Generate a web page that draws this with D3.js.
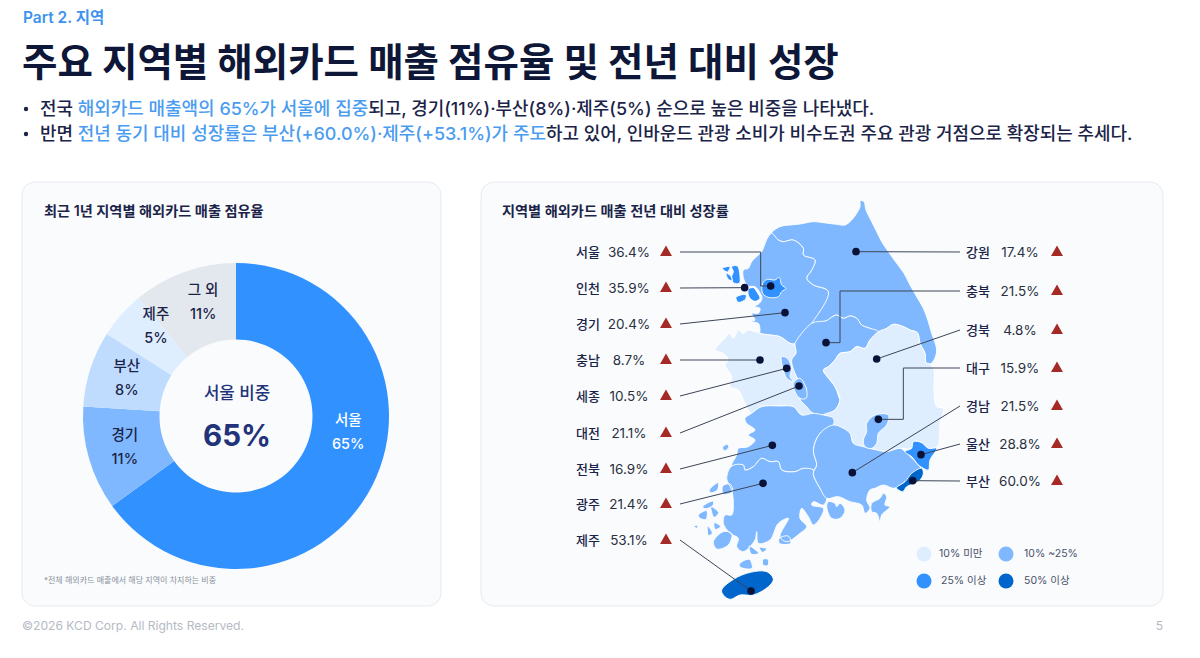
<!DOCTYPE html>
<html lang="ko">
<head>
<meta charset="UTF-8">
<title>주요 지역별 해외카드 매출 점유율 및 전년 대비 성장</title>
<script src="https://d3js.org/d3.v7.min.js"></script>
<style>
  html, body { margin: 0; padding: 0; background: #fff; }
  svg { display: block; }
  text { font-family: Inter, "Noto Sans CJK KR", sans-serif; }
</style>
</head>
<body>
<div id="chart"></div>
<script>
// donut data
const shareNames = ["서울", "경기", "부산", "제주", "그 외"];
const shareValues = [65, 11, 8, 5, 11];
const shareColors = ["#3191ff", "#7fb8ff", "#bfdcff", "#dfeeff", "#e3e8ee"];

// growth by region, same order as the label rows
const leftNames = ["서울", "인천", "경기", "충남", "세종", "대전", "전북", "광주", "제주"];
const leftGrowth = [36.4, 35.9, 20.4, 8.7, 10.5, 21.1, 16.9, 21.4, 53.1];
const rightNames = ["강원", "충북", "경북", "대구", "경남", "울산", "부산"];
const rightGrowth = [17.4, 21.5, 4.8, 15.9, 21.5, 28.8, 60.0];

const legendLabels = ["10% 미만", "10% ~25%", "25% 이상", "50% 이상"];
const growthBreaks = [10, 25, 50];
const growthColors = ["#dfeeff", "#7fb8ff", "#3191ff", "#0066cc"];

// map outlines, traced by hand on a 840 x 1260 grid
const outlines = {
  "강원": [[[275,130],[300,110],[330,105],[360,102],[400,95],[430,98],[470,103],[495,105],[515,90],[530,70],[540,50],[541,32],[552,35],[558,60],[575,95],[590,125],[605,155],[625,185],[650,220],[672,250],[690,285],[710,320],[730,355],[745,395],[755,430],[770,480],[762,510],[750,522],[738,518],[735,490],[720,460],[712,428],[690,420],[670,410],[640,403],[620,415],[595,425],[570,415],[545,405],[530,385],[510,378],[490,385],[470,375],[450,385],[440,392],[395,400],[445,305],[400,285],[380,265],[395,240],[405,210],[370,195],[370,175],[340,150],[310,155],[295,150]]],
  "경기": [[[275,130],[295,150],[310,155],[340,150],[370,175],[370,195],[405,210],[395,240],[380,265],[400,285],[445,305],[395,400],[345,460],[330,460],[300,440],[270,435],[240,430],[240,420],[235,400],[210,395],[225,390],[215,370],[235,370],[240,355],[225,350],[238,340],[246,325],[238,305],[225,290],[205,288],[192,270],[190,240],[205,235],[215,215],[235,195],[245,185],[262,145]]],
  "충남": [[[240,430],[270,435],[300,440],[330,460],[345,465],[348,490],[335,510],[350,560],[380,600],[380,630],[360,625],[380,650],[400,670],[365,675],[340,650],[300,648],[245,650],[215,670],[190,630],[175,600],[150,590],[155,560],[135,525],[145,510],[130,490],[105,480],[115,465],[130,450],[150,430],[160,445],[175,420],[190,430],[205,420],[225,425]]],
  "충북": [[[395,400],[440,392],[450,385],[470,375],[490,385],[510,378],[530,385],[545,405],[570,415],[595,425],[570,450],[555,475],[530,470],[510,485],[480,490],[465,510],[445,530],[430,540],[450,570],[465,590],[478,625],[480,630],[465,660],[430,675],[400,670],[380,650],[360,625],[380,600],[350,560],[335,510],[348,490],[345,465],[345,460]]],
  "경북": [[[595,425],[620,415],[640,403],[670,410],[690,420],[712,428],[720,460],[735,490],[738,518],[750,522],[762,540],[762,600],[770,650],[790,655],[780,700],[772,770],[745,775],[725,758],[700,755],[695,775],[660,775],[620,785],[590,780],[550,770],[520,760],[510,730],[490,715],[460,705],[460,685],[430,675],[465,660],[480,630],[465,590],[450,570],[430,540],[445,530],[465,510],[480,490],[510,485],[530,470],[555,475],[570,450]]],
  "전북": [[[215,670],[245,650],[300,648],[340,650],[365,675],[400,670],[430,675],[460,685],[460,705],[420,730],[400,780],[410,825],[400,840],[370,835],[345,845],[305,840],[295,815],[270,815],[245,805],[220,830],[195,840],[190,825],[155,828],[170,795],[175,775],[205,770],[225,750],[205,735],[225,720],[200,700],[195,685]],
    [[128,772],[142,763],[146,773],[133,782]]],
  "광주": [[[155,828],[190,825],[195,840],[220,830],[245,805],[270,815],[295,815],[305,840],[345,845],[370,835],[400,840],[400,855],[420,895],[440,925],[430,945],[400,935],[395,945],[430,955],[420,985],[400,1005],[385,980],[365,955],[360,985],[380,1010],[360,1030],[320,1055],[300,1040],[325,985],[295,1000],[270,1050],[235,1060],[230,1025],[225,1050],[190,1085],[170,1070],[175,1045],[150,1030],[130,1000],[135,975],[155,975],[160,940],[155,900],[140,865]],
    [[100,1055],[130,1025],[155,1030],[145,1065],[110,1077]],[[88,900],[115,878],[112,900],[92,908]],[[128,888],[150,882],[158,905],[130,912]],
    [[68,950],[100,933],[98,947],[75,956]],[[55,975],[80,962],[78,988],[60,985]],[[93,950],[116,968],[102,982]],[[83,1008],[97,1030],[85,1036]],[[103,998],[122,1010],[105,1018]],[[42,1008],[54,1006],[50,1015]],
    [[178,1122],[208,1108],[216,1135],[182,1132]],[[249,1108],[264,1108],[264,1126],[250,1126]],[[208,1068],[236,1090],[214,1092]],[[238,1073],[260,1076],[248,1087]],[[298,1045],[325,1038],[332,1060],[298,1060]]],
  "경남": [[[460,705],[490,715],[510,730],[520,760],[550,770],[590,780],[620,785],[660,775],[675,785],[715,825],[725,840],[700,855],[675,875],[650,892],[640,895],[610,885],[585,895],[570,900],[560,930],[570,955],[555,970],[545,945],[510,935],[475,920],[440,925],[420,895],[400,850],[410,825],[400,780],[420,730]],
    [[575,940],[600,925],[610,910],[620,920],[615,945],[630,950],[605,975],[600,995],[590,970],[575,965]],
    [[445,935],[465,940],[470,950],[480,940],[495,960],[480,985],[455,985],[440,950]]],
  "서울": [[[248,280],[262,268],[285,270],[298,262],[305,285],[318,295],[305,305],[295,320],[265,322],[248,310]]],
  "인천": [[[205,298],[220,293],[232,308],[240,325],[225,334],[208,322]],[[155,230],[172,228],[180,260],[178,280],[160,278],[155,260],[160,245]],[[127,235],[150,230],[142,246]],[[138,250],[152,258],[157,272],[145,268]],[[168,322],[197,314],[197,327],[175,337]]],
  "세종": [[[305,500],[322,505],[335,535],[330,560],[340,575],[320,565],[310,540],[305,520]]],
  "대전": [[[340,580],[360,565],[380,600],[378,625],[360,625],[345,605]]],
  "대구": [[[560,700],[585,675],[625,675],[620,705],[595,730],[590,760],[575,775],[555,770],[550,750],[560,725]]],
  "울산": [[[675,785],[695,775],[700,755],[725,758],[745,775],[770,775],[750,810],[745,840],[725,832],[715,825],[695,800]]],
  "부산": [[[650,892],[675,875],[695,850],[725,835],[730,850],[722,868],[705,880],[680,890],[668,905],[650,895]]],
  "제주": [[[125,1200],[150,1175],[200,1150],[260,1145],[280,1168],[265,1190],[220,1215],[180,1215],[150,1228],[130,1215]]]
};

// dot for each region and the elbow of its leader, on the same grid
const anchors = {
  "서울": [272,288], "인천": [194,293], "경기": [315,368], "충남": [240,510], "세종": [320,535],
  "대전": [357,588], "전북": [277,766], "광주": [249,880], "제주": [213,1203], "강원": [528,185],
  "충북": [438,458], "경북": [590,507], "대구": [595,688], "경남": [517,848], "울산": [723,794], "부산": [698,872]
};
const elbows = { "서울": 242, "충북": 480, "대구": 670 };

const width = 1200, height = 658;
const navy = "#1b2448";

const svg = d3.select("#chart").append("svg")
  .attr("width", width)
  .attr("height", height);

// header
svg.append("text").attr("x", 23).attr("y", 23)
  .attr("font-size", 15.5).attr("font-weight", 600).attr("fill", "#3f93ee")
  .text("Part 2. 지역");
svg.append("text").attr("x", 22).attr("y", 76)
  .attr("font-size", 38.5).attr("font-weight", 700).attr("fill", "#0e1738")
  .text("주요 지역별 해외카드 매출 점유율 및 전년 대비 성장");

const bullets = [
  [["전국 ", 0], ["해외카드 매출액의 65%가 서울에 집중", 1], ["되고, 경기(11%)·부산(8%)·제주(5%) 순으로 높은 비중을 나타냈다.", 0]],
  [["반면 ", 0], ["전년 동기 대비 성장률은 부산(+60.0%)·제주(+53.1%)가 주도", 1], ["하고 있어, 인바운드 관광 소비가 비수도권 주요 관광 거점으로 확장되는 추세다.", 0]]
];
bullets.forEach((parts, i) => {
  const y = 115 + i * 25;
  svg.append("circle").attr("cx", 26).attr("cy", y - 6).attr("r", 2.2).attr("fill", navy);
  const t = svg.append("text").attr("x", 40).attr("y", y)
    .attr("font-size", 17.95).attr("font-weight", 500);
  parts.forEach(p => t.append("tspan").attr("fill", p[1] ? "#4a9cf0" : navy).text(p[0]));
});

// cards
[[22, 419], [481, 682]].forEach(c => {
  svg.append("rect").attr("x", c[0]).attr("y", 182).attr("width", c[1]).attr("height", 424)
    .attr("rx", 13).attr("fill", "#f9fbfd").attr("stroke", "#e7eaee");
});
svg.append("text").attr("x", 44).attr("y", 216).attr("font-size", 14.2).attr("font-weight", 600)
  .attr("fill", navy).text("최근 1년 지역별 해외카드 매출 점유율");
svg.append("text").attr("x", 502).attr("y", 216).attr("font-size", 14.2).attr("font-weight", 600)
  .attr("fill", navy).text("지역별 해외카드 매출 전년 대비 성장률");

// donut
const donut = svg.append("g").attr("transform", "translate(236,416)");
const pie = d3.pie().sort(null)(shareValues);
const arc = d3.arc().innerRadius(76.5).outerRadius(153);
donut.selectAll("path").data(pie).join("path")
  .attr("d", arc)
  .attr("fill", (d, i) => shareColors[i]);

// label spots in the ring are nudged by hand, the slices are narrow near the top
const labelShift = [[10, -36], [-1, -1], [0, -2.5], [6, -14], [6, -6]];
pie.forEach((d, i) => {
  const c = arc.centroid(d);
  const x = c[0] + labelShift[i][0], y = c[1] + labelShift[i][1];
  const color = i === 0 ? "#fff" : navy;
  donut.append("text").attr("x", x).attr("y", y - 7).attr("text-anchor", "middle")
    .attr("font-size", 14.5).attr("font-weight", 500).attr("fill", color).text(shareNames[i]);
  donut.append("text").attr("x", x).attr("y", y + 17).attr("text-anchor", "middle")
    .attr("font-size", 14.5).attr("font-weight", 500).attr("fill", color).text(shareValues[i] + "%");
});
donut.append("text").attr("x", 1).attr("y", -17).attr("text-anchor", "middle")
  .attr("font-size", 16.8).attr("font-weight", 500).attr("fill", "#22337a").text("서울 비중");
donut.append("text").attr("x", 1).attr("y", 30).attr("text-anchor", "middle")
  .attr("font-size", 29.5).attr("font-weight", 700).attr("fill", "#22337a").text(shareValues[0] + "%");

svg.append("text").attr("x", 44).attr("y", 583).attr("font-size", 8)
  .attr("fill", "#8a909b").text("*전체 해외카드 매출에서 해당 지역이 차지하는 비중");

// map
const xMap = d3.scaleLinear().domain([0, 840]).range([680, 960]);
const yMap = d3.scaleLinear().domain([0, 1260]).range([190, 610]);
const color = d3.scaleThreshold().domain(growthBreaks).range(growthColors);
const growthOf = {};
leftNames.forEach((n, i) => growthOf[n] = leftGrowth[i]);
rightNames.forEach((n, i) => growthOf[n] = rightGrowth[i]);

const ringPath = d3.line().x(d => xMap(d[0])).y(d => yMap(d[1])).curve(d3.curveCatmullRomClosed.alpha(0.5));
const regions = svg.append("g");
Object.keys(outlines).forEach(name => {
  regions.append("path")
    .attr("d", outlines[name].map(ringPath).join(""))
    .attr("fill", color(growthOf[name]))
    .attr("stroke", "#fff")
    .attr("stroke-width", 0.9)
    .attr("stroke-linejoin", "round");
});

// labels, leaders and dots
const leftRows = [252, 288, 324, 360, 396, 433, 469, 504, 540];
const rightRows = [252, 291, 330, 368, 406, 444, 481];

function drawRows(names, growth, rows, nameX, valueX, triX, lineX) {
  names.forEach((name, i) => {
    const y = rows[i];
    svg.append("text").attr("x", nameX).attr("y", y + 5).attr("text-anchor", "middle")
      .attr("font-size", 13).attr("font-weight", 500).attr("fill", navy).text(name);
    svg.append("text").attr("x", valueX).attr("y", y + 5).attr("text-anchor", "middle")
      .attr("font-size", 13.5).attr("fill", "#2a3040").text(growth[i].toFixed(1) + "%");
    svg.append("path")
      .attr("d", d3.symbol().type(d3.symbolTriangle).size(62))
      .attr("transform", `translate(${triX},${y + 0.5})`)
      .attr("fill", "#a52a26");

    const a = anchors[name];
    const pts = [[lineX, y]];
    if (elbows[name] !== undefined) {
      pts.push([xMap(elbows[name]), y], [xMap(elbows[name]), yMap(a[1])]);
    }
    pts.push([xMap(a[0]), yMap(a[1])]);
    svg.append("path").attr("d", d3.line()(pts))
      .attr("fill", "none").attr("stroke", "#3d4557").attr("stroke-width", 1);
  });
}
drawRows(leftNames, leftGrowth, leftRows, 588, 629, 666, 680);
drawRows(rightNames, rightGrowth, rightRows, 978, 1020, 1057, 960);

Object.keys(anchors).forEach(name => {
  svg.append("circle")
    .attr("cx", xMap(anchors[name][0])).attr("cy", yMap(anchors[name][1]))
    .attr("r", 3.8).attr("fill", "#0a1238");
});

// legend
const legendSpots = [[924, 554, 939], [1006, 554, 1024], [924, 581, 941], [1006, 581, 1024]];
legendLabels.forEach((label, i) => {
  const s = legendSpots[i];
  svg.append("circle").attr("cx", s[0]).attr("cy", s[1]).attr("r", 7.5).attr("fill", growthColors[i]);
  svg.append("text").attr("x", s[2]).attr("y", s[1] + 3).attr("font-size", 10.5)
    .attr("fill", "#4a5068").text(label);
});

// footer
svg.append("text").attr("x", 22).attr("y", 630).attr("font-size", 12.1)
  .attr("fill", "#b5bac3").text("©2026 KCD Corp. All Rights Reserved.");
svg.append("text").attr("x", 1163).attr("y", 630).attr("text-anchor", "end").attr("font-size", 12.1)
  .attr("fill", "#b5bac3").text("5");
</script>
</body>
</html>
